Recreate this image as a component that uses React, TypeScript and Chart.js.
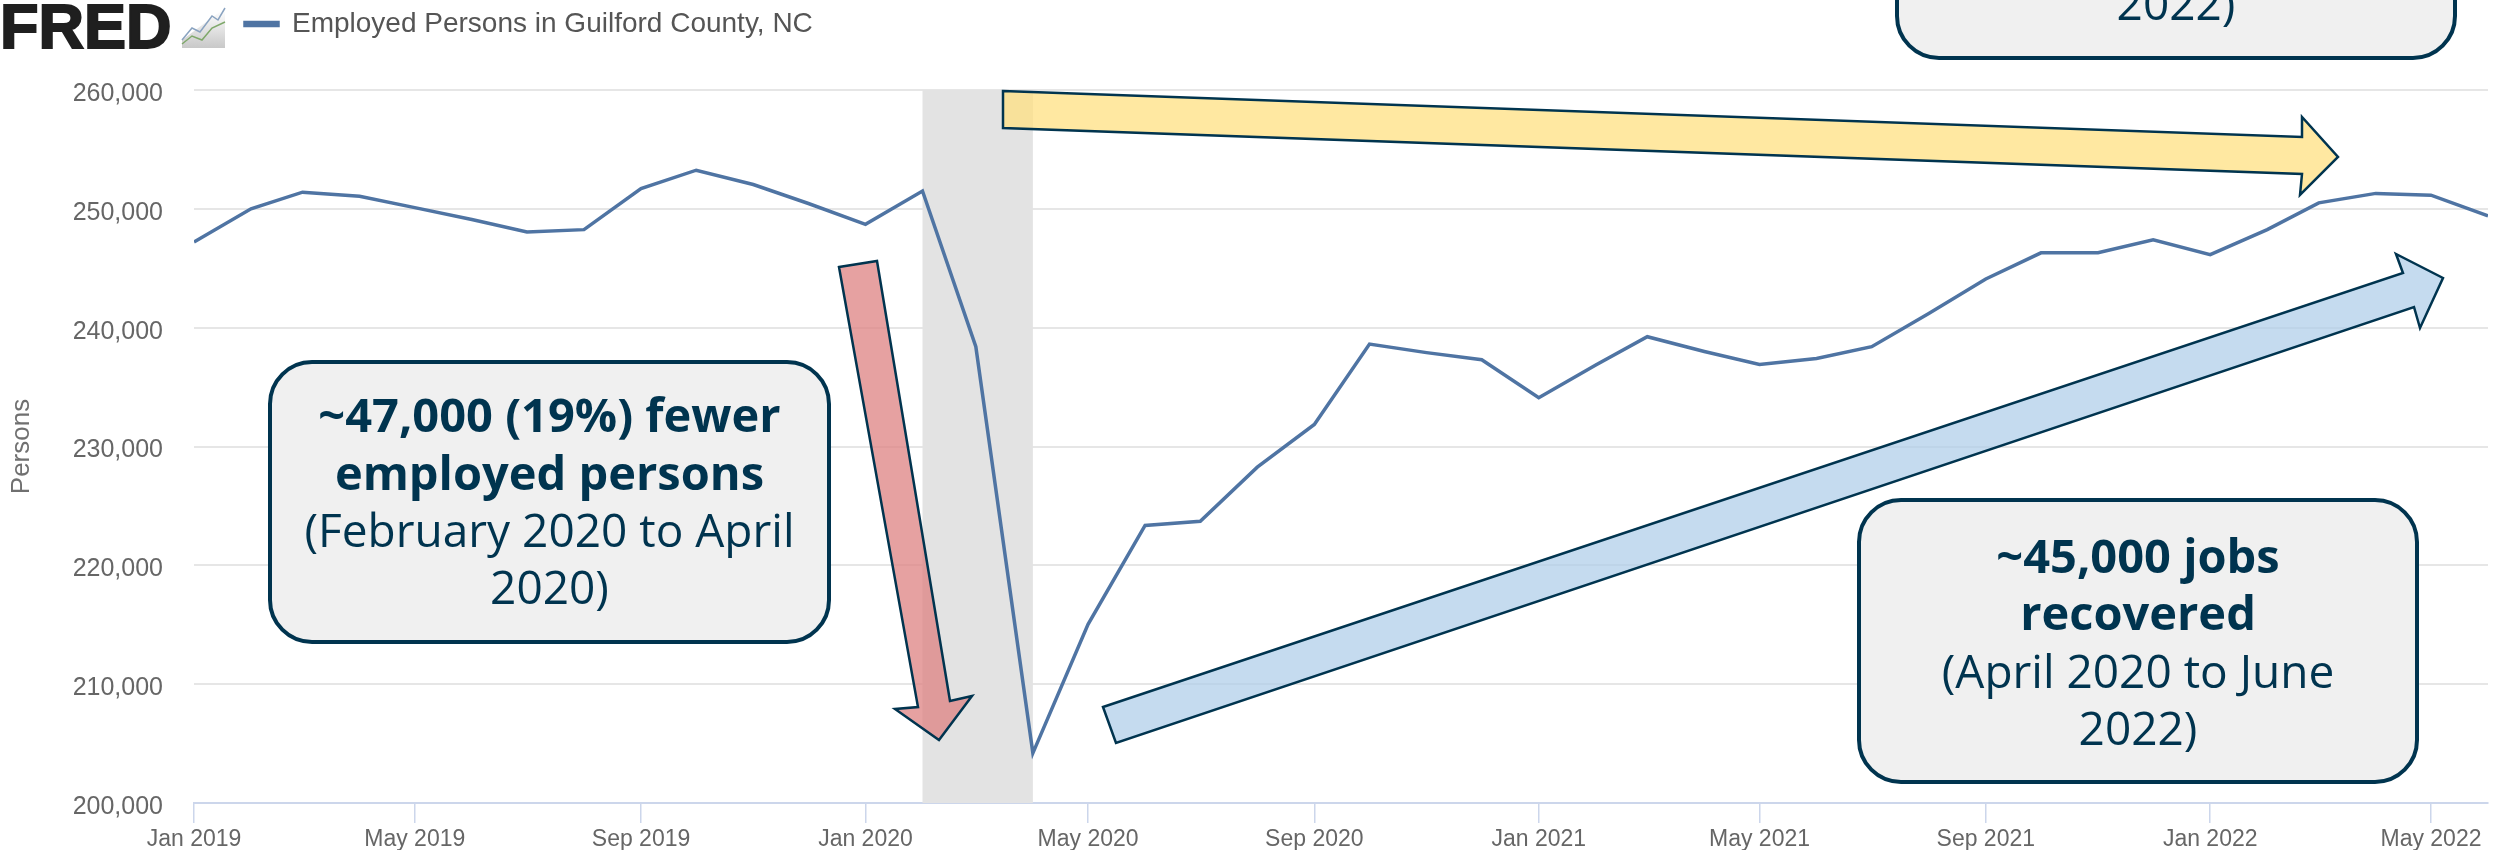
import React, { useEffect, useRef } from "react";
import { Chart, registerables } from "chart.js";

Chart.register(...registerables);

const seriesName = "Employed Persons in Guilford County, NC";
const yTitle = "Persons";
const startYear = 2019;
const monthsCount = 42;
const employed = [
  247200, 250000, 251400, 251050, 250100, 249100, 248050, 248250, 251700, 253250, 252050, 250450,
  248700, 251500, 238400, 204200, 215030, 223360, 223700, 228260, 231850, 238620, 237900, 237300,
  234100, 236850, 239240, 238000, 236900, 237400, 238400, 241200, 244100, 246300, 246300, 247400,
  246150, 248250, 250500, 251300, 251150, 249400,
];
const tickMonths = [0, 4, 8, 12, 16, 20, 24, 28, 32, 36, 40];
const tickLabels = ["Jan 2019", "May 2019", "Sep 2019", "Jan 2020", "May 2020", "Sep 2020", "Jan 2021", "May 2021", "Sep 2021", "Jan 2022", "May 2022"];
const recessionMonths = [13, 15];

const monthTime = (i: number) => Date.UTC(startYear, i, 1);
const xValues = employed.map((_, i) => monthTime(i));

const INK = "#00344f";
const SANS = '"Liberation Sans", Arial, sans-serif';
const CALLOUT_FONT = '"Open Sans", sans-serif';

const boxes = [
  { x: 270, y: 362, w: 559, h: 280, lines: [["~47,000 (19%) fewer", true, 419], ["employed persons", true, 477], ["(February 2020 to April", false, 534], ["2020)", false, 591]] },
  { x: 1859, y: 500, w: 558, h: 282, lines: [["~45,000 jobs", true, 560], ["recovered", true, 617], ["(April 2020 to June", false, 675], ["2022)", false, 732]] },
  { x: 1897, y: -222, w: 558, h: 280, lines: [["2022)", false, 7]] },
];

const arrows = [
  { fill: "rgba(255,224,130,0.75)", pts: [[1003, 91], [2302, 137], [2302, 117], [2338, 157], [2300, 195], [2302, 174], [1003, 128]] },
  { fill: "rgba(222,130,130,0.75)", pts: [[839, 267], [877, 261], [950, 701], [972, 696], [939, 740], [895, 709], [918, 707]] },
  { fill: "rgba(172,204,232,0.7)", pts: [[1103, 707], [2403, 273], [2396, 254], [2443, 278], [2420, 328], [2414, 307], [1116, 743]] },
];

const decorPlugin = {
  id: "decor",
  afterLayout(chart: any) {
    chart.legend.left = 235;
    chart.legend.top = 0;
  },
  beforeDatasetsDraw(chart: any) {
    const { ctx, chartArea, scales } = chart;
    const a = scales.x.getPixelForValue(monthTime(recessionMonths[0]));
    const b = scales.x.getPixelForValue(monthTime(recessionMonths[1]));
    ctx.save();
    ctx.fillStyle = "#e3e3e3";
    ctx.fillRect(a, chartArea.top, b - a, chartArea.bottom - chartArea.top);
    ctx.restore();
  },
  afterDraw(chart: any) {
    const { ctx } = chart;
    ctx.save();
    // arrows
    for (const ar of arrows) {
      ctx.beginPath();
      ar.pts.forEach((p: number[], i: number) => (i ? ctx.lineTo(p[0], p[1]) : ctx.moveTo(p[0], p[1])));
      ctx.closePath();
      ctx.fillStyle = ar.fill;
      ctx.fill();
      ctx.strokeStyle = INK;
      ctx.lineWidth = 2.5;
      ctx.stroke();
    }
    // callouts
    for (const b of boxes) {
      ctx.beginPath();
      ctx.roundRect(b.x, b.y, b.w, b.h, 42);
      ctx.fillStyle = "#f0f0f0";
      ctx.fill();
      ctx.strokeStyle = INK;
      ctx.lineWidth = 4;
      ctx.stroke();
      ctx.fillStyle = INK;
      ctx.textAlign = "center";
      ctx.textBaseline = "middle";
      for (const [t, bold, y] of b.lines as any[]) {
        ctx.font = bold ? `700 47px ${CALLOUT_FONT}` : `400 46px ${CALLOUT_FONT}`;
        ctx.fillText(t, b.x + b.w / 2, y);
      }
    }
    // FRED logo
    ctx.textAlign = "left";
    ctx.textBaseline = "alphabetic";
    ctx.font = `900 63px ${SANS}`;
    ctx.fillStyle = "#1f1f1f";
    ctx.strokeStyle = "#1f1f1f";
    ctx.lineWidth = 2;
    ctx.fillText("FRED", 0, 48);
    ctx.strokeText("FRED", 0, 48);
    const g = ctx.createLinearGradient(0, 10, 0, 48);
    g.addColorStop(0, "#ffffff");
    g.addColorStop(1, "#c8c8c8");
    ctx.fillStyle = g;
    ctx.beginPath();
    ctx.moveTo(182, 48); ctx.lineTo(225, 48); ctx.lineTo(225, 8); ctx.lineTo(182, 40);
    ctx.closePath();
    ctx.fill();
    ctx.lineWidth = 1.5;
    const spark = (color: string, pts: number[][]) => {
      ctx.strokeStyle = color;
      ctx.beginPath();
      pts.forEach((p, i) => (i ? ctx.lineTo(p[0], p[1]) : ctx.moveTo(p[0], p[1])));
      ctx.stroke();
    };
    spark("#8aa3c0", [[182, 40], [192, 28], [200, 32], [212, 16], [218, 20], [225, 8]]);
    spark("#7fa86a", [[182, 44], [192, 36], [202, 40], [212, 28], [225, 22]]);
    ctx.restore();
  },
};

export default function App() {
  const ref = useRef<HTMLCanvasElement>(null);
  useEffect(() => {
    document.body.style.margin = "0";
    document.body.style.overflow = "hidden";
    const chart = new Chart(ref.current as HTMLCanvasElement, {
      type: "line",
      data: {
        labels: xValues,
        datasets: [
          {
            label: seriesName,
            data: xValues.map((x, i) => ({ x, y: employed[i] })),
            borderColor: "#4f74a3",
            backgroundColor: "#4f74a3",
            borderWidth: 3.5,
            pointRadius: 0,
            tension: 0,
          },
        ],
      },
      options: {
        responsive: false,
        animation: false,
        devicePixelRatio: 1,
        layout: { padding: { left: 0, top: 42, right: 8, bottom: 0 } },
        plugins: {
          tooltip: { enabled: false },
          legend: {
            display: true,
            position: "top",
            align: "start",
            labels: {
              boxWidth: 33,
              boxHeight: 3,
              padding: 10,
              color: "#555555",
              font: { family: SANS, size: 28 },
            },
          },
        },
        scales: {
          x: {
            type: "linear",
            min: monthTime(0),
            max: monthTime(monthsCount - 1),
            afterBuildTicks: (axis: any) => {
              axis.ticks = tickMonths.map((m) => ({ value: monthTime(m) }));
            },
            afterFit: (axis: any) => {
              axis.height = 47;
            },
            grid: { drawOnChartArea: false, drawTicks: true, tickLength: 20, color: "#ccd6eb", lineWidth: 1.5 },
            border: { color: "#ccd6eb", width: 2 },
            ticks: {
              autoSkip: false,
              maxRotation: 0,
              padding: 3,
              color: "#666666",
              font: { family: SANS, size: 23 },
              callback: (v: any) => tickLabels[tickMonths.findIndex((m) => monthTime(m) === v)] ?? "",
            },
          },
          y: {
            min: 200000,
            max: 260000,
            afterFit: (axis: any) => {
              axis.width = 194;
            },
            title: {
              display: true,
              text: yTitle,
              color: "#707070",
              padding: { top: 6, bottom: 0 },
              font: { family: SANS, size: 26 },
            },
            grid: { color: "#e6e6e6", lineWidth: 2, drawTicks: false },
            border: { display: false },
            ticks: {
              stepSize: 10000,
              padding: 31,
              labelOffset: 4,
              color: "#666666",
              font: { family: SANS, size: 25 },
              callback: (v: any) => Number(v).toLocaleString("en-US"),
            },
          },
        },
      } as any,
      plugins: [decorPlugin],
    });
    return () => chart.destroy();
  }, []);
  return (
    <div style={{ position: "absolute", left: 0, top: 0, width: 2496, height: 850 }}>
      <canvas ref={ref} width={2496} height={850} style={{ display: "block" }} />
    </div>
  );
}
